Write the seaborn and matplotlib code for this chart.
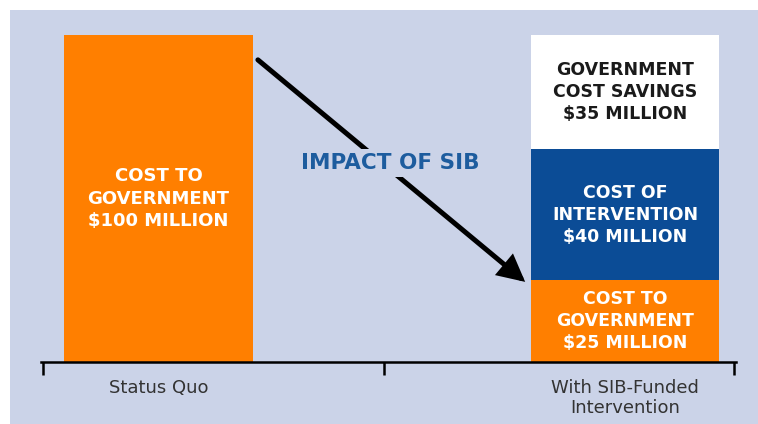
import matplotlib
matplotlib.use("Agg")
import matplotlib.pyplot as plt
from matplotlib.patches import Rectangle
import seaborn as sns
import pandas as pd

# dados do grafico
categorias = ["Status Quo", "With SIB-Funded\nIntervention"]
custo_governo = [100, 25]
custo_intervencao = [0, 40]
economia_governo = [0, 35]

rotulos_governo = ["COST TO\nGOVERNMENT\n$100 MILLION", "COST TO\nGOVERNMENT\n$25 MILLION"]
rotulo_intervencao = "COST OF\nINTERVENTION\n$40 MILLION"
rotulo_economia = "GOVERNMENT\nCOST SAVINGS\n$35 MILLION"
titulo_seta = "IMPACT OF SIB"

# cores
laranja = "#FF7F00"
azul = "#0B4C96"
fundo = "#CBD3E8"
azul_texto = "#1D5C9E"

df = pd.DataFrame({"cat": categorias,
                   "gov": custo_governo,
                   "int": custo_intervencao,
                   "eco": economia_governo})
df["topo_int"] = df["gov"] + df["int"]
df["topo_eco"] = df["topo_int"] + df["eco"]

sns.set_style("white")
plt.rcParams["font.family"] = ["DejaVu Sans"]

fig = plt.figure(figsize=(7.58, 4.24), dpi=100, facecolor="white")
fig.patches.append(Rectangle((10 / 758, 0), 748 / 758, 414 / 424,
                             transform=fig.transFigure, facecolor=fundo,
                             edgecolor="none", zorder=-10))

ax = fig.add_axes([41 / 758, 62 / 424, 695 / 758, 327 / 424])
ax.set_facecolor("none")
ax.set_zorder(1)

largura = 0.405
# barras empilhadas: desenha do topo para a base
sns.barplot(data=df, x="cat", y="topo_eco", color="white", width=largura,
            saturation=1, ax=ax, linewidth=0)
sns.barplot(data=df, x="cat", y="topo_int", color=azul, width=largura,
            saturation=1, ax=ax, linewidth=0)
sns.barplot(data=df, x="cat", y="gov", color=laranja, width=largura,
            saturation=1, ax=ax, linewidth=0)

x0, x1 = -0.252, 1.238
ax.set_xlim(x0, x1)
ax.set_ylim(0, 100)

# rotulos dentro das barras
fonte_barra = dict(ha="center", va="center", fontweight="bold",
                   fontsize=12.5, linespacing=1.3)
for i, row in df.iterrows():
    ax.text(i, row["gov"] / 2, rotulos_governo[i], color="white",
            **{**fonte_barra, "fontsize": 13 if i == 0 else 12.5,
               "linespacing": 1.35 if i == 0 else 1.3})
    if row["int"] > 0:
        ax.text(i, row["gov"] + row["int"] / 2, rotulo_intervencao,
                color="white", **fonte_barra)
    if row["eco"] > 0:
        ax.text(i, row["topo_int"] + row["eco"] / 2, rotulo_economia,
                color="#1a1a1a", **fonte_barra)

# seta
ax.annotate("", xy=(0.786, 24.5), xytext=(0.213, 92.4),
            arrowprops=dict(arrowstyle="-|>,head_length=0.47,head_width=0.24",
                            lw=3.6, color="black", joinstyle="miter",
                            mutation_scale=30, shrinkA=0, shrinkB=0),
            zorder=3)
ax.text(0.496, 60.9, titulo_seta, ha="center", va="center", color=azul_texto,
        fontsize=15.5, fontweight="bold", zorder=4,
        bbox=dict(boxstyle="square,pad=0.2", facecolor=fundo, edgecolor="none"))

# eixo
for lado in ["top", "right", "left"]:
    ax.spines[lado].set_visible(False)
ax.spines["bottom"].set_color("black")
ax.spines["bottom"].set_linewidth(1.8)
ax.spines["bottom"].set_zorder(5)
ax.set_yticks([])
ax.set_xticks([0, 1])
ax.set_xticklabels(categorias, fontsize=13, color="#333333", linespacing=1.2)
ax.tick_params(axis="x", which="major", length=0, pad=12)
ax.set_xticks([x0 + 0.004, 0.483, x1 - 0.004], minor=True)
ax.tick_params(axis="x", which="minor", bottom=True, length=9, width=1.8,
               color="black", direction="out")
ax.set_xlabel("")
ax.set_ylabel("")

fig.savefig("out.png", dpi=100, facecolor="white")
